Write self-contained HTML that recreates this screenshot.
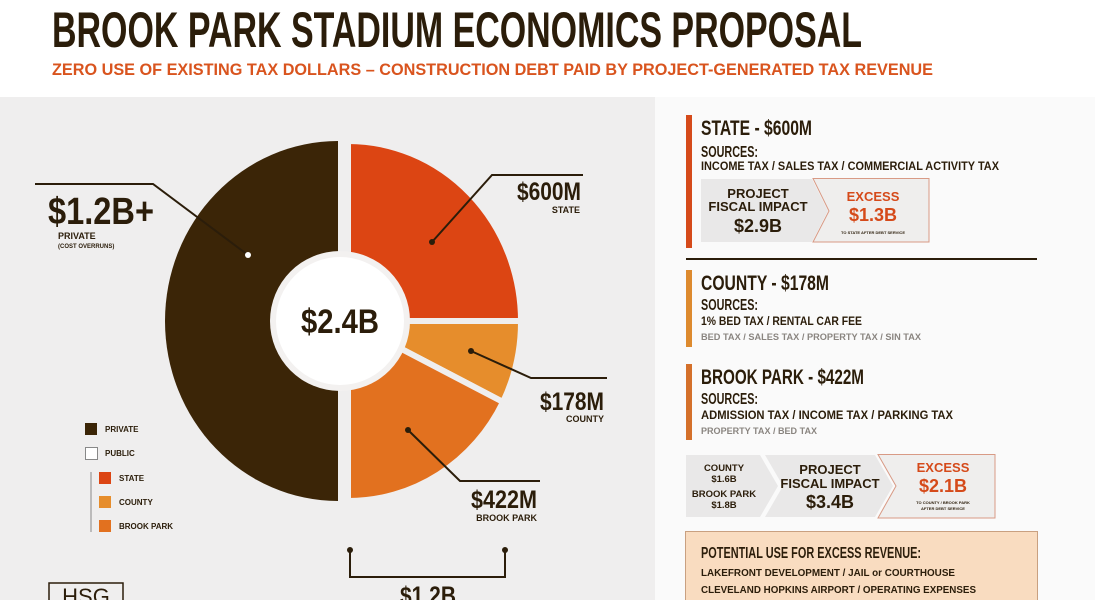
<!DOCTYPE html>
<html><head><meta charset="utf-8"><style>
html,body{margin:0;padding:0;background:#fff;}
svg{display:block}
text{font-family:"Liberation Sans Narrow","Liberation Sans",sans-serif;font-weight:bold;fill:#2b1d0a}
.s{font-family:"Liberation Sans",sans-serif;font-weight:bold}
</style></head><body>
<svg width="1095" height="600" viewBox="0 0 1095 600" xmlns="http://www.w3.org/2000/svg">
<rect width="1095" height="600" fill="#ffffff"/>
<rect x="0" y="97" width="655" height="503" fill="#efeeee"/>
<rect x="655" y="97" width="440" height="503" fill="#fafafa"/>
<!-- title -->
<text x="52" y="47" font-size="50" textLength="810" lengthAdjust="spacingAndGlyphs">BROOK PARK STADIUM ECONOMICS PROPOSAL</text>
<text class="s" x="52" y="75" font-size="17" fill="#d9541e" style="fill:#d9541e" textLength="881" lengthAdjust="spacingAndGlyphs">ZERO USE OF EXISTING TAX DOLLARS – CONSTRUCTION DEBT PAID BY PROJECT-GENERATED TAX REVENUE</text>

<!-- donut -->
<path d="M338,501 A173,180 0 0 1 338,141 Z" fill="#3b2507"/>
<path d="M348,321 L348,141 A173,180 0 0 1 521,321 Z" fill="#dc4513" stroke="#efeeee" stroke-width="6"/>
<path d="M348,321 L521,321 A173,180 0 0 1 503,402 Z" fill="#e68d2c" stroke="#efeeee" stroke-width="6"/>
<path d="M348,321 L503,402 A173,180 0 0 1 348,501 Z" fill="#e2711f" stroke="#efeeee" stroke-width="6"/>
<rect x="338" y="136" width="7" height="370" fill="#efeeee"/>
<circle cx="340" cy="321" r="70" fill="#f3f1f0"/>
<circle cx="340" cy="321" r="64" fill="#ffffff"/>
<text x="340" y="333" font-size="34" text-anchor="middle" textLength="78" lengthAdjust="spacingAndGlyphs">$2.4B</text>

<!-- callouts -->
<g stroke="#2b1d0a" stroke-width="2" fill="none">
<polyline points="35,184 153,184 248,255"/>
<polyline points="432,242 492,175 583,175"/>
<polyline points="471,351 531,378 607,378"/>
<polyline points="408,430 460,481 540,481"/>
<polyline points="350,550 350,577 505,577 505,550"/>
</g>
<g fill="#2b1d0a"><circle cx="248" cy="255" r="3" fill="#fff"/><circle cx="432" cy="242" r="3"/><circle cx="471" cy="351" r="3"/><circle cx="408" cy="430" r="3"/><circle cx="350" cy="550" r="3"/><circle cx="505" cy="550" r="3"/></g>
<text x="48" y="224" font-size="38" textLength="106" lengthAdjust="spacingAndGlyphs">$1.2B+</text>
<text class="s" x="58" y="239" font-size="9">PRIVATE</text>
<text class="s" x="58" y="248" font-size="6">(COST OVERRUNS)</text>
<text x="517" y="200" font-size="25" textLength="64" lengthAdjust="spacingAndGlyphs">$600M</text>
<text class="s" x="580" y="213" font-size="9" text-anchor="end">STATE</text>
<text x="540" y="410" font-size="25" textLength="64" lengthAdjust="spacingAndGlyphs">$178M</text>
<text class="s" x="604" y="422" font-size="9" text-anchor="end">COUNTY</text>
<text x="471" y="508" font-size="25" textLength="66" lengthAdjust="spacingAndGlyphs">$422M</text>
<text class="s" x="537" y="521" font-size="9" text-anchor="end">BROOK PARK</text>
<text x="400" y="604" font-size="25" textLength="56" lengthAdjust="spacingAndGlyphs">$1.2B</text>
<rect x="49" y="583" width="74" height="30" fill="none" stroke="#2b1d0a" stroke-width="1.5"/>
<text x="86" y="604" font-size="22" text-anchor="middle" style="font-weight:normal;font-family:'Liberation Sans',sans-serif">HSG</text>

<!-- legend -->
<rect x="85" y="423" width="12" height="12" fill="#3b2507"/>
<rect x="85.5" y="447.5" width="12" height="12" fill="#fff" stroke="#888"/>
<line x1="91" y1="472" x2="91" y2="532" stroke="#888"/>
<rect x="99" y="472" width="12" height="12" fill="#dc4513"/>
<rect x="99" y="496" width="12" height="12" fill="#e68d2c"/>
<rect x="99" y="520" width="12" height="12" fill="#e2711f"/>
<text class="s" x="105" y="432" font-size="8">PRIVATE</text>
<text class="s" x="105" y="456" font-size="8">PUBLIC</text>
<text class="s" x="119" y="481" font-size="8">STATE</text>
<text class="s" x="119" y="505" font-size="8">COUNTY</text>
<text class="s" x="119" y="529" font-size="8">BROOK PARK</text>

<!-- right: state -->
<rect x="686" y="115" width="6" height="133" fill="#d54a1a"/>
<text x="701" y="135" font-size="21" textLength="111" lengthAdjust="spacingAndGlyphs">STATE - $600M</text>
<text x="701" y="157" font-size="16" textLength="57" lengthAdjust="spacingAndGlyphs">SOURCES:</text>
<text class="s" x="701" y="170" font-size="11.5" textLength="298" lengthAdjust="spacingAndGlyphs">INCOME TAX  /  SALES TAX  /  COMMERCIAL ACTIVITY TAX</text>
<path d="M701,179 L812,179 L828,211 L812,242 L701,242 Z" fill="#e9e8e8"/>
<path d="M813,178.5 L929,178.5 L929,242 L813,242 L829,211 Z" fill="#efeeed" stroke="#d89a85"/>
<text x="758" y="198" font-size="13" text-anchor="middle">PROJECT</text>
<text x="758" y="211" font-size="13" text-anchor="middle">FISCAL IMPACT</text>
<text x="758" y="232" font-size="18" text-anchor="middle">$2.9B</text>
<text x="873" y="201" font-size="13" text-anchor="middle" style="fill:#d54a1a">EXCESS</text>
<text x="873" y="221" font-size="18" text-anchor="middle" style="fill:#d54a1a">$1.3B</text>
<text class="s" x="873" y="234" font-size="4" text-anchor="middle">TO STATE AFTER DEBT SERVICE</text>
<rect x="686" y="258" width="351" height="2" fill="#2b1d0a"/>

<!-- county -->
<rect x="686" y="270" width="6" height="77" fill="#dd8a2e"/>
<text x="701" y="290" font-size="21" textLength="128" lengthAdjust="spacingAndGlyphs">COUNTY - $178M</text>
<text x="701" y="310" font-size="16" textLength="57" lengthAdjust="spacingAndGlyphs">SOURCES:</text>
<text class="s" x="701" y="325" font-size="11.5" textLength="161" lengthAdjust="spacingAndGlyphs">1% BED TAX  /  RENTAL CAR FEE</text>
<text class="s" x="701" y="340" font-size="9.5" style="fill:#8a8580" textLength="220" lengthAdjust="spacingAndGlyphs">BED TAX  /  SALES TAX  /  PROPERTY TAX  /  SIN TAX</text>

<!-- brook park -->
<rect x="686" y="364" width="6" height="76" fill="#d4702a"/>
<text x="701" y="384" font-size="21" textLength="163" lengthAdjust="spacingAndGlyphs">BROOK PARK - $422M</text>
<text x="701" y="404" font-size="16" textLength="57" lengthAdjust="spacingAndGlyphs">SOURCES:</text>
<text class="s" x="701" y="419" font-size="11.5" textLength="252" lengthAdjust="spacingAndGlyphs">ADMISSION TAX  /  INCOME TAX  /  PARKING TAX</text>
<text class="s" x="701" y="434" font-size="9.5" style="fill:#8a8580" textLength="116" lengthAdjust="spacingAndGlyphs">PROPERTY TAX  /  BED TAX</text>

<path d="M686,455 L760,455 L778,486 L760,517 L686,517 Z" fill="#e9e8e8"/>
<path d="M765,455 L875,455 L893,486 L875,517 L765,517 L783,486 Z" fill="#e9e8e8"/>
<path d="M878,454.5 L995,454.5 L995,518 L878,518 L896,486 Z" fill="#efeeed" stroke="#d89a85"/>
<text x="724" y="471" font-size="9.5" text-anchor="middle">COUNTY</text>
<text x="724" y="482" font-size="9.5" text-anchor="middle">$1.6B</text>
<text x="724" y="497" font-size="9.5" text-anchor="middle">BROOK PARK</text>
<text x="724" y="508" font-size="9.5" text-anchor="middle">$1.8B</text>
<text x="830" y="474" font-size="13" text-anchor="middle">PROJECT</text>
<text x="830" y="488" font-size="13" text-anchor="middle">FISCAL IMPACT</text>
<text x="830" y="508" font-size="18" text-anchor="middle">$3.4B</text>
<text x="943" y="472" font-size="13" text-anchor="middle" style="fill:#d54a1a">EXCESS</text>
<text x="943" y="492" font-size="18" text-anchor="middle" style="fill:#d54a1a">$2.1B</text>
<text class="s" x="943" y="504" font-size="4" text-anchor="middle">TO COUNTY / BROOK PARK</text>
<text class="s" x="943" y="510" font-size="4" text-anchor="middle">AFTER DEBT SERVICE</text>

<rect x="685.5" y="531.5" width="352" height="75" fill="#f9dcc0" stroke="#c9a080"/>
<text x="701" y="558" font-size="16" textLength="220" lengthAdjust="spacingAndGlyphs">POTENTIAL USE FOR EXCESS REVENUE:</text>
<text class="s" x="701" y="576" font-size="10.5" textLength="254" lengthAdjust="spacingAndGlyphs">LAKEFRONT DEVELOPMENT  /  JAIL or COURTHOUSE</text>
<text class="s" x="701" y="593" font-size="10.5" textLength="275" lengthAdjust="spacingAndGlyphs">CLEVELAND HOPKINS AIRPORT  /  OPERATING EXPENSES</text>
</svg>
</body></html>
